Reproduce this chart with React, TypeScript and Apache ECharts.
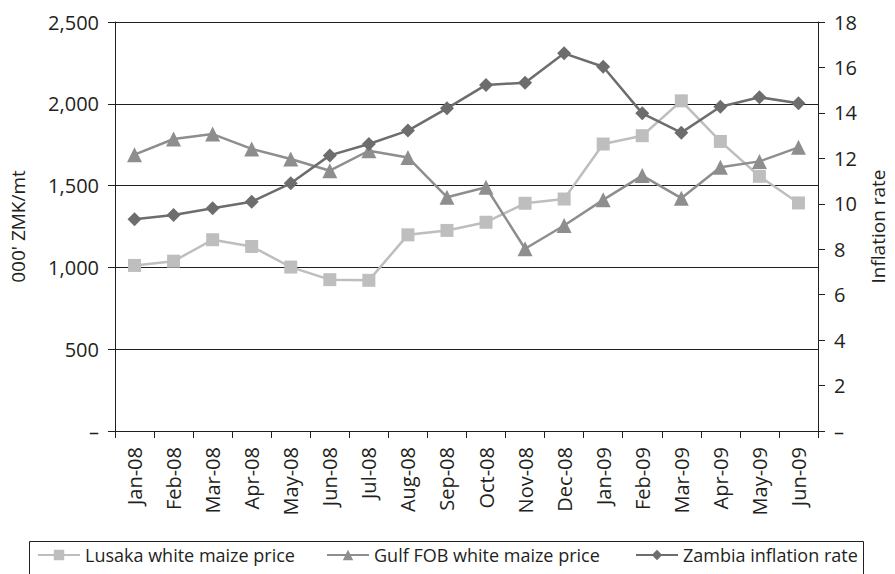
import React, { useEffect, useRef } from "react";
import * as echarts from "echarts";

const categories = [
  "Jan-08", "Feb-08", "Mar-08", "Apr-08", "May-08", "Jun-08", "Jul-08", "Aug-08", "Sep-08",
  "Oct-08", "Nov-08", "Dec-08", "Jan-09", "Feb-09", "Mar-09", "Apr-09", "May-09", "Jun-09",
];
const lusakaPrice = [1012, 1038, 1169, 1128, 1002, 925, 921, 1199, 1226, 1276, 1392, 1418, 1754, 1805, 2018, 1770, 1557, 1394];
const gulfPrice = [1689, 1785, 1815, 1724, 1663, 1591, 1713, 1672, 1429, 1490, 1114, 1256, 1413, 1561, 1423, 1612, 1648, 1734];
const zambiaInflation = [9.32, 9.51, 9.8, 10.09, 10.9, 12.13, 12.63, 13.22, 14.2, 15.23, 15.33, 16.62, 16.03, 13.98, 13.13, 14.27, 14.69, 14.42];

const FONT = "Open Sans";
const TXT = "#231f20";

export default function App() {
  const ref = useRef<HTMLDivElement>(null);
  useEffect(() => {
    document.body.style.margin = "0";
    const chart = echarts.init(ref.current!, null, { renderer: "svg" });
    const axisLine = { show: true, lineStyle: { color: "#231f20", width: 1 } };
    const axisTick = { show: true, inside: false, length: 7, lineStyle: { color: "#231f20", width: 1 } };
    const labelBase = { color: TXT, fontFamily: FONT, fontSize: 20 };
    const legendBase = {
      top: 546,
      itemWidth: 42,
      itemHeight: 13,
      itemGap: 5,
      textStyle: { color: TXT, fontFamily: FONT, fontSize: 18 },
      padding: 0,
    };
    chart.setOption({
      animation: false,
      backgroundColor: "#ffffff",
      textStyle: { fontFamily: FONT },
      grid: { left: 114, right: 69, top: 22, bottom: 143, containLabel: false },
      xAxis: {
        type: "category",
        data: categories,
        boundaryGap: true,
        axisLine,
        axisTick: { ...axisTick, interval: 0, alignWithLabel: false },
        axisLabel: { ...labelBase, rotate: 90, interval: 0, margin: 16 },
        splitLine: { show: false },
      },
      yAxis: [
        {
          type: "value",
          min: 0,
          max: 2500,
          interval: 500,
          position: "left",
          name: "000' ZMK/mt",
          nameLocation: "middle",
          nameRotate: 90,
          nameGap: 88,
          nameTextStyle: { color: TXT, fontFamily: FONT, fontSize: 19 },
          axisLine,
          axisTick,
          axisLabel: {
            ...labelBase,
            margin: 16,
            formatter: (v: number) => (v === 0 ? "–" : v.toLocaleString("en-US")),
          },
          splitLine: { show: true, lineStyle: { color: "#231f20", width: 1 } },
        },
        {
          type: "value",
          min: 0,
          max: 18,
          interval: 2,
          position: "right",
          name: "Inflation rate",
          nameLocation: "middle",
          nameRotate: 90,
          nameGap: 50,
          nameTextStyle: { color: TXT, fontFamily: FONT, fontSize: 19 },
          axisLine,
          axisTick,
          axisLabel: {
            ...labelBase,
            margin: 16,
            formatter: (v: number) => (v === 0 ? "–" : String(v)),
          },
          splitLine: { show: false },
        },
      ],
      legend: [
        { ...legendBase, left: 37, data: ["Lusaka white maize price"] },
        { ...legendBase, left: 326, data: ["Gulf FOB white maize price"] },
        { ...legendBase, left: 635, data: ["Zambia inflation rate"] },
      ],
      graphic: [
        {
          type: "rect",
          shape: { x: 29.5, y: 541.5, width: 834, height: 60 },
          style: { fill: "none", stroke: "#231f20", lineWidth: 1 },
          z: 0,
          silent: true,
        },
      ],
      series: [
        {
          name: "Lusaka white maize price",
          type: "line",
          yAxisIndex: 0,
          data: lusakaPrice,
          symbol: "rect",
          symbolSize: 13,
          lineStyle: { color: "#bebebe", width: 2.5 },
          itemStyle: { color: "#bebebe" },
        },
        {
          name: "Gulf FOB white maize price",
          type: "line",
          yAxisIndex: 0,
          data: gulfPrice,
          symbol: "triangle",
          symbolSize: 15,
          lineStyle: { color: "#8e8e8e", width: 2.5 },
          itemStyle: { color: "#8e8e8e" },
        },
        {
          name: "Zambia inflation rate",
          type: "line",
          yAxisIndex: 1,
          data: zambiaInflation,
          symbol: "diamond",
          symbolSize: 14,
          lineStyle: { color: "#6d6d6f", width: 2.5 },
          itemStyle: { color: "#6d6d6f" },
        },
      ],
    });
    return () => chart.dispose();
  }, []);
  return <div ref={ref} style={{ width: 895, height: 574 }} />;
}
